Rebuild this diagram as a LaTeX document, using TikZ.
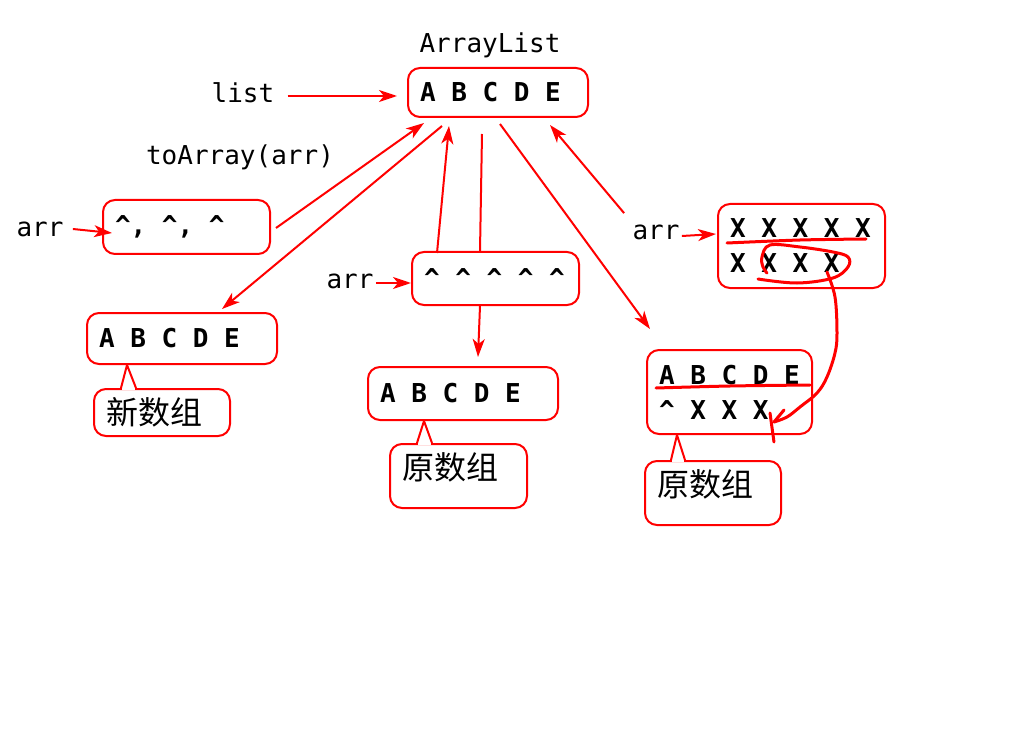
\documentclass[tikz,border=0pt]{standalone}
\usepackage{fontspec}
\setmonofont{DejaVu Sans Mono}
\newfontfamily\cjk{Noto Sans CJK SC}
\usetikzlibrary{arrows.meta,calc}

\begin{document}
\begin{tikzpicture}[x=0.5pt,y=-0.5pt,
    box/.style={draw=red, line width=1pt, rounded corners=6pt, align=flush left, inner xsep=6pt,
        font=\ttfamily\bfseries\fontsize{13}{17.5}\selectfont},
    lbl/.style={inner sep=1pt, font=\ttfamily\fontsize{13}{16}\selectfont},
    callbox/.style={draw=red, line width=1pt, rounded corners=6pt, fill=white, align=flush left, inner xsep=6pt,
        font=\cjk\fontsize{16}{18}\selectfont},
    arr/.style={draw=red, line width=1pt, -{Stealth[length=9pt,width=6pt,inset=2.5pt]}},
    hand/.style={draw=red, line width=1.5pt, line cap=round, line join=round}]

    \useasboundingbox (0,0) rectangle (1024,738);

    % boxes
    \node[box, text width=78pt, minimum height=24.5pt] (alist) at (498,92.5) {A B C D E};
    \node[box, text width=71.5pt, minimum height=27pt] (arrA) at (186.5,227) {\textasciicircum, \textasciicircum, \textasciicircum};
    \node[box, text width=83pt, minimum height=25.5pt] (newarr) at (182,338.5) {A B C D E};
    \node[box, text width=71.5pt, minimum height=26.5pt] (arrB) at (495.5,278.5) {\textasciicircum{} \textasciicircum{} \textasciicircum{} \textasciicircum{} \textasciicircum};
    \node[box, text width=83pt, minimum height=26.5pt] (orig1) at (463,393.5) {A B C D E};
    \node[box, text width=71.5pt, minimum height=42pt] (arrC) at (801.5,246) {X X X X X\\X X X X};
    \node[box, text width=70.5pt, minimum height=42pt] (orig2) at (729.5,392) {A B C D E\\\textasciicircum{} X X X};

    % callouts
    \node[callbox, text width=56pt, minimum height=23.5pt] (c1) at (162,412.5) {新数组};
    \node[callbox, text width=56.5pt, minimum height=32pt, text height=14pt, text depth=11pt] (c2) at (458.5,476) {原数组};
    \node[callbox, text width=56pt, minimum height=32pt, text height=14pt, text depth=11pt] (c3) at (713,493) {原数组};
    \foreach \c/\p/\a/\b/\t in {c1/newarr/28/43/41, c2/orig1/28/43/57, c3/orig2/27/41/31} {
        \fill[white] ($(\c.north west)+(\a+1,-2)$) rectangle ($(\c.north west)+(\b-1,2)$);
        \draw[red, line width=1pt, line join=round] ($(\c.north west)+(\a,0)$) -- ($(\p.south west)+(\t,0)$) -- ($(\c.north west)+(\b,0)$);
    }

    % labels
    \node[lbl] (title) at (490,45) {ArrayList};
    \node[lbl] (list) at (243,93) {list};
    \node[lbl] (call) at (240,157) {toArray(arr)};
    \node[lbl] (arr1) at (40,229) {arr};
    \node[lbl] (arr2) at (350,281) {arr};
    \node[lbl] (arr3) at (656,232) {arr};

    % arrows
    \draw[arr] ($(list.east)+(11,3)$) -- ($(alist.west)+(-10,3.5)$);
    \draw[arr] ($(arr1.east)+(7,0)$) -- ($(arrA.west)+(10,6)$);
    \draw[arr] ($(arr2.east)+(0,2)$) -- ($(arrB.west)+(0,4.5)$);
    \draw[arr] ($(arr3.east)+(0,4)$) -- ($(arrC.west)+(-1,-12)$);
    \draw[arr] ($(arrA.east)+(5,1)$) -- ($(alist.south west)+(17,5)$);
    \draw[arr] ($(alist.south west)+(35,8)$) -- ($(newarr.north)+(40,-3)$);
    \draw[arr] ($(arrB.north west)+(26,2)$) -- ($(alist.south west)+(42,8)$);
    \draw[red, line width=1pt] ($(alist.south west)+(75,16)$) -- ($(arrB.north west)+(69,0)$);
    \draw[arr] ($(arrB.south west)+(69,0)$) -- ($(orig1.north west)+(111,-9)$);
    \draw[arr] ($(alist.south west)+(93,6)$) -- ($(orig2.north west)+(4,-20)$);
    \draw[arr] ($(arr3.north west)+(-6,-9)$) -- ($(alist.south east)+(-39,7)$);

    % hand strokes
    \draw[hand] plot[smooth] coordinates {(727,243) (800,240) (866,239)};
    \draw[hand] plot[smooth, tension=0.6] coordinates {(758,279) (797,283) (833,278) (848,267) (848,257) (833,252) (800,247) (770,245) (762,257) (763,267) (767,273)};
    \draw[hand] plot[smooth, tension=0.6] coordinates {(827,272) (835,297) (837,333) (835,353) (827,377) (817,393) (800,407) (787,417) (774,422)};
    \draw[hand] (784,410) -- (774,422);
    \draw[hand] (770,413) -- (774,442);
    \draw[hand] plot[smooth] coordinates {(656,388) (730,386) (810,385)};
\end{tikzpicture}
\end{document}
